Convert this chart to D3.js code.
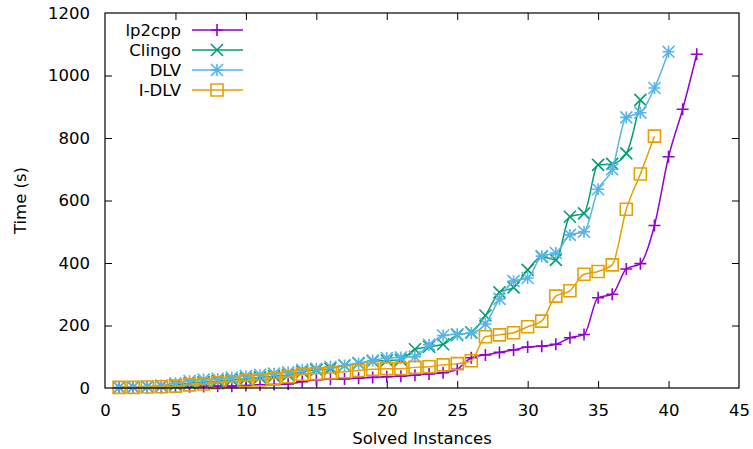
<!DOCTYPE html>
<html><head><meta charset="utf-8">
<script src="https://cdn.jsdelivr.net/npm/d3@7"></script>
<style>body{margin:0;background:#fff}svg{display:block}text{font-family:"DejaVu Sans",sans-serif}</style>
</head><body>
<svg id="c" width="753" height="449"></svg>
<script>
const seriesNames = ["lp2cpp", "Clingo", "DLV", "I-DLV"];
const lp2cpp = [1,1,2,2,3,4,5,6,6,8,10,11,13,20,26,28,29,31,34,36,38,41,45,49,60,97,106,114,122,131,134,140,161,171,289,300,381,398,520,740,892,1068];
const clingo = [2,3,4,6,10,15,19,22,26,30,34,38,42,52,58,62,72,80,86,88,90,124,132,140,170,178,232,306,322,378,420,410,548,559,714,717,751,922];
const dlv = [2,3,5,8,15,22,27,29,33,38,42,46,50,58,62,68,72,78,88,96,98,100,138,168,172,176,205,285,342,352,422,432,490,500,636,700,866,881,960,1076];
const idlv = [2,2,3,4,6,10,13,17,20,24,26,30,36,44,46,48,52,56,60,62,62,66,68,74,78,87,164,170,177,196,214,294,311,364,373,394,572,685,806];
const xTicks = [0,5,10,15,20,25,30,35,40,45];
const yTicks = [0,200,400,600,800,1000,1200];
const colors = ["#9400d3", "#009e73", "#56b4e9", "#e69f00"];
const markers = ["plus", "cross", "star", "square"];

const svg = d3.select("#c");
const L = 105, R = 739, T = 13, B = 388;
const x = d3.scaleLinear().domain([0,45]).range([L,R]);
const y = d3.scaleLinear().domain([0,1200]).range([B,T]);

function marker(g, type, cx, cy, color) {
  const s = 6;
  const p = d3.path();
  if (type === "plus") { p.moveTo(cx-s,cy); p.lineTo(cx+s,cy); p.moveTo(cx,cy-s); p.lineTo(cx,cy+s); }
  else if (type === "cross") { p.moveTo(cx-s,cy-s); p.lineTo(cx+s,cy+s); p.moveTo(cx-s,cy+s); p.lineTo(cx+s,cy-s); }
  else if (type === "star") { p.moveTo(cx-s,cy); p.lineTo(cx+s,cy); p.moveTo(cx,cy-s); p.lineTo(cx,cy+s);
    p.moveTo(cx-s,cy-s); p.lineTo(cx+s,cy+s); p.moveTo(cx-s,cy+s); p.lineTo(cx+s,cy-s); }
  else { p.rect(cx-s, cy-s, 2*s, 2*s); }
  g.append("path").attr("d", p.toString()).attr("fill","none").attr("stroke",color).attr("stroke-width",1.6);
}

// axes with inward ticks (mirrored)
const ax = svg.append("g");
const tl = 7;
ax.append("g").attr("transform",`translate(0,${B})`)
  .call(d3.axisBottom(x).tickValues(xTicks).tickSize(-tl).tickPadding(tl+9).tickFormat(d3.format("d")))
  .call(g=>{g.select(".domain").remove();});
ax.append("g").attr("transform",`translate(0,${T})`)
  .call(d3.axisTop(x).tickValues(xTicks).tickSize(-tl).tickFormat(""))
  .call(g=>{g.select(".domain").remove();});
ax.append("g").attr("transform",`translate(${L},0)`)
  .call(d3.axisLeft(y).tickValues(yTicks).tickSize(-tl).tickPadding(tl+8).tickFormat(d3.format("d")))
  .call(g=>{g.select(".domain").remove();});
ax.append("g").attr("transform",`translate(${R},0)`)
  .call(d3.axisRight(y).tickValues(yTicks).tickSize(-tl).tickFormat(""))
  .call(g=>{g.select(".domain").remove();});
ax.selectAll(".tick line").attr("stroke","#000").attr("stroke-width",1);
ax.selectAll(".tick text").attr("font-size",16.5).attr("fill","#000").style("font-family","'DejaVu Sans'");
ax.selectAll(".tick").filter(d=>d===0||d===45||d===1200).selectAll("line").remove();

// data
const all = [lp2cpp, clingo, dlv, idlv];
const line = d3.line().x((d,i)=>x(i+1)).y(d=>y(d)).curve(d3.curveMonotoneX);
const plot = svg.append("g");
all.forEach((arr, k) => {
  const g = plot.append("g");
  g.append("path").attr("d", line(arr)).attr("fill","none").attr("stroke",colors[k]).attr("stroke-width",1.5);
  arr.forEach((v,i) => marker(g, markers[k], x(i+1), y(v), colors[k]));
});

// border
svg.append("rect").attr("x",L).attr("y",T).attr("width",R-L).attr("height",B-T)
  .attr("fill","none").attr("stroke","#000").attr("stroke-width",1.2);

// legend
const lg = svg.append("g");
seriesNames.forEach((n,k) => {
  const yy = 30 + k*20;
  lg.append("text").attr("x",181).attr("y",yy).attr("dy","0.35em").attr("text-anchor","end")
    .attr("font-size",16.5).text(n);
  lg.append("line").attr("x1",192).attr("x2",243).attr("y1",yy).attr("y2",yy)
    .attr("stroke",colors[k]).attr("stroke-width",1.5);
  marker(lg, markers[k], 217, yy, colors[k]);
});

// axis titles
svg.append("text").attr("x",(L+R)/2).attr("y",444).attr("text-anchor","middle").attr("font-size",16.5).text("Solved Instances");
svg.append("text").attr("transform",`translate(26,${(T+B)/2}) rotate(-90)`).attr("text-anchor","middle").attr("font-size",16.5).text("Time (s)");
</script>
</body></html>
